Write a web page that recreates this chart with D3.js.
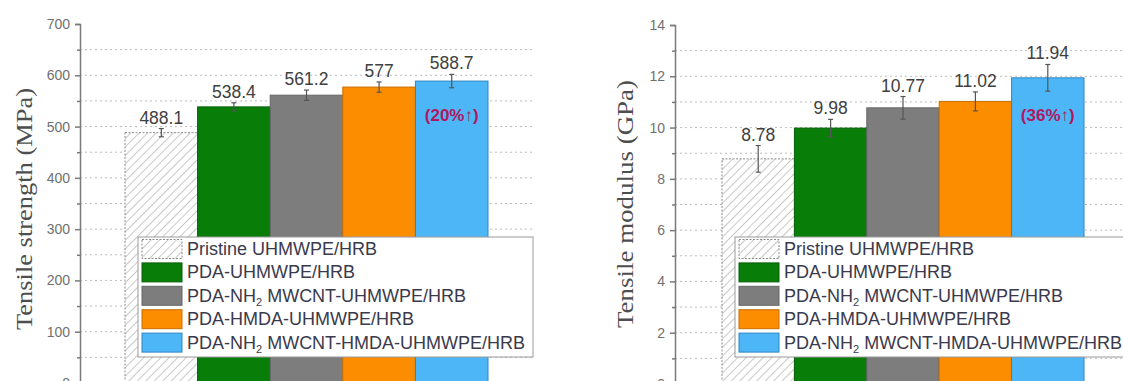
<!DOCTYPE html>
<html>
<head>
<meta charset="utf-8">
<script src="https://cdn.jsdelivr.net/npm/d3@7/dist/d3.min.js"></script>
<style>
  html, body { margin: 0; padding: 0; background: #fff; }
  svg { display: block; }
</style>
</head>
<body>
<svg id="chart" width="1123" height="381"></svg>
<script>
// Sample names (legend order = bar order)
const categories = [
  "Pristine UHMWPE/HRB",
  "PDA-UHMWPE/HRB",
  "PDA-NH2 MWCNT-UHMWPE/HRB",
  "PDA-HMDA-UHMWPE/HRB",
  "PDA-NH2 MWCNT-HMDA-UHMWPE/HRB"
];
// Tensile strength (MPa) with standard deviation
const strengthValues = [488.1, 538.4, 561.2, 577, 588.7];
const strengthErrors = [8, 8, 10, 10, 13];
// Tensile modulus (GPa) with standard deviation
const modulusValues = [8.78, 9.98, 10.77, 11.02, 11.94];
const modulusErrors = [0.52, 0.34, 0.44, 0.37, 0.52];
// Axis ticks
const strengthTicks = [0, 100, 200, 300, 400, 500, 600, 700];
const strengthMinor = [50, 150, 250, 350, 450, 550, 650];
const modulusTicks = [0, 2, 4, 6, 8, 10, 12, 14];
const modulusMinor = [1, 3, 5, 7, 9, 11, 13];
// Improvement of the best sample over the pristine one
const gainLabels = ["(20%\u2191)", "(36%\u2191)"];

const fills = ["url(#hatch)", "#087d08", "#7d7d7d", "#fd8d00", "#4db6f7"];
const strokes = ["#8a8a8a", "#05600a", "#666666", "#c86e00", "#2f86c0"];

const svg = d3.select("#chart");

// Diagonal hatch for the pristine sample
const defs = svg.append("defs");
const pat = defs.append("pattern")
  .attr("id", "hatch")
  .attr("patternUnits", "userSpaceOnUse")
  .attr("width", 6).attr("height", 6)
  .attr("patternTransform", "rotate(45)");
pat.append("rect").attr("width", 6).attr("height", 6).attr("fill", "#fff");
pat.append("line").attr("x1", 0).attr("y1", 0).attr("x2", 0).attr("y2", 6)
  .attr("stroke", "#9a9a9a").attr("stroke-width", 1.1);

function panel(cfg) {
  const g = svg.append("g");
  const y = d3.scaleLinear().domain(cfg.domain).range([cfg.yBottom, cfg.yTop]);
  const x = d3.scaleBand().domain(categories).range(cfg.barRange).padding(0);

  // dotted grid lines at every major and minor step
  const gridVals = cfg.ticks.concat(cfg.minor)
    .filter(v => v > cfg.domain[0] && v < cfg.domain[1]);
  g.append("g").selectAll("line").data(gridVals).join("line")
    .attr("x1", cfg.axisX).attr("x2", cfg.plotRight)
    .attr("y1", d => y(d)).attr("y2", d => y(d))
    .attr("stroke", "#bcbcbc").attr("stroke-width", 1)
    .attr("stroke-dasharray", "2,3");

  // bars
  g.append("g").selectAll("rect").data(cfg.values).join("rect")
    .attr("x", (d, i) => x(categories[i]))
    .attr("width", x.bandwidth())
    .attr("y", d => y(d))
    .attr("height", d => y(0) - y(d))
    .attr("fill", (d, i) => fills[i])
    .attr("stroke", (d, i) => strokes[i])
    .attr("stroke-width", 1)
    .attr("stroke-dasharray", (d, i) => i === 0 ? "2,1.5" : null);

  // error bars
  const eb = g.append("g").attr("stroke", "#555").attr("stroke-width", 1.2);
  cfg.values.forEach((v, i) => {
    const cx = x(categories[i]) + x.bandwidth() / 2;
    const e = cfg.errors[i];
    eb.append("line").attr("x1", cx).attr("x2", cx).attr("y1", y(v - e)).attr("y2", y(v + e));
    eb.append("line").attr("x1", cx - 2.5).attr("x2", cx + 2.5).attr("y1", y(v + e)).attr("y2", y(v + e));
    eb.append("line").attr("x1", cx - 2.5).attr("x2", cx + 2.5).attr("y1", y(v - e)).attr("y2", y(v - e));
  });

  // value labels above the error bars
  g.append("g").selectAll("text").data(cfg.values).join("text")
    .attr("x", (d, i) => x(categories[i]) + x.bandwidth() / 2)
    .attr("y", (d, i) => y(d + cfg.errors[i]) - 5)
    .attr("text-anchor", "middle")
    .attr("font-family", "Arial, 'Liberation Sans', sans-serif")
    .attr("font-size", 17.5)
    .attr("fill", "#404040")
    .text(d => String(d));

  // gain annotation inside the last bar
  const last = categories[categories.length - 1];
  g.append("text")
    .attr("x", x(last) + x.bandwidth() / 2)
    .attr("y", 121)
    .attr("text-anchor", "middle")
    .attr("font-family", "Arial, 'Liberation Sans', sans-serif")
    .attr("font-weight", "bold")
    .attr("font-size", 17)
    .attr("fill", "#b3175f")
    .text(cfg.gain);

  // y axis
  const axis = g.append("g").attr("transform", `translate(${cfg.axisX},0)`)
    .call(d3.axisLeft(y).tickValues(cfg.ticks).tickSize(5).tickPadding(5));
  axis.select(".domain").attr("stroke", "#7a7a7a").attr("stroke-width", 1.5);
  axis.selectAll(".tick line").attr("stroke", "#7a7a7a").attr("stroke-width", 1.5);
  axis.selectAll(".tick text")
    .attr("font-family", "Arial, 'Liberation Sans', sans-serif")
    .attr("font-size", 14).attr("fill", "#707070");
  const minorAxis = g.append("g").attr("transform", `translate(${cfg.axisX},0)`)
    .call(d3.axisLeft(y).tickValues(cfg.minor).tickSize(3).tickFormat(""));
  minorAxis.select(".domain").remove();
  minorAxis.selectAll(".tick line").attr("stroke", "#7a7a7a").attr("stroke-width", 1.5);

  // y axis title
  g.append("text")
    .attr("transform", `translate(${cfg.titleX},${cfg.titleY}) rotate(-90)`)
    .attr("text-anchor", "middle")
    .attr("dominant-baseline", "central")
    .attr("font-family", "'Liberation Serif', 'Times New Roman', serif")
    .attr("font-size", 23)
    .attr("fill", "#4e4e4e")
    .attr("textLength", cfg.titleLen)
    .attr("lengthAdjust", "spacingAndGlyphs")
    .text(cfg.title);

  // legend
  const lg = g.append("g");
  lg.append("rect")
    .attr("x", cfg.legend.x).attr("y", cfg.legend.y)
    .attr("width", cfg.legend.w).attr("height", cfg.legend.h)
    .attr("fill", "#fff").attr("stroke", "#9a9a9a").attr("stroke-width", 1);
  categories.forEach((name, i) => {
    const cy = cfg.legend.y + 12 + i * 23.4;
    lg.append("rect")
      .attr("x", cfg.legend.x + 4).attr("y", cy - 9.5)
      .attr("width", 40).attr("height", 19)
      .attr("fill", fills[i]).attr("stroke", strokes[i])
      .attr("stroke-width", 1)
      .attr("stroke-dasharray", i === 0 ? "2,1.5" : null);
    const t = lg.append("text")
      .attr("x", cfg.legend.x + 49).attr("y", cy + 6)
      .attr("font-family", "Arial, 'Liberation Sans', sans-serif")
      .attr("font-size", 18)
      .attr("fill", "#3a3a4c");
    // "NH2" is written with a subscript 2
    const idx = name.indexOf("NH2");
    if (idx < 0) {
      t.text(name);
    } else {
      t.append("tspan").text(name.slice(0, idx + 2));
      t.append("tspan").attr("font-size", 11).attr("dy", 4).text("2");
      t.append("tspan").attr("dy", -4).text(name.slice(idx + 3));
    }
  });
}

panel({
  domain: [0, 700], yBottom: 383, yTop: 24,
  ticks: strengthTicks, minor: strengthMinor,
  values: strengthValues, errors: strengthErrors,
  axisX: 80, plotRight: 533, barRange: [125, 488],
  gain: gainLabels[0],
  title: "Tensile strength (MPa)", titleX: 24, titleY: 209, titleLen: 242,
  legend: { x: 138, y: 237, w: 395, h: 120 }
});

panel({
  domain: [0, 14], yBottom: 384, yTop: 25,
  ticks: modulusTicks, minor: modulusMinor,
  values: modulusValues, errors: modulusErrors,
  axisX: 675, plotRight: 1123, barRange: [722, 1084],
  gain: gainLabels[1],
  title: "Tensile modulus (GPa)", titleX: 625, titleY: 204, titleLen: 248,
  legend: { x: 735, y: 237, w: 392, h: 120 }
});
</script>
</body>
</html>
